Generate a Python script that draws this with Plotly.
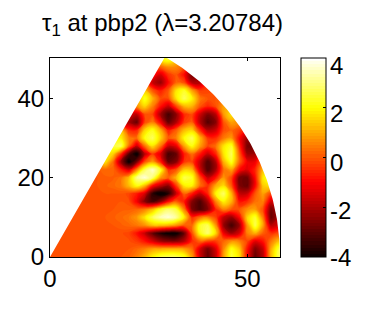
import numpy as np
import plotly.graph_objects as go

title_text = "τ<sub>1</sub> at pbp2 (λ=3.20784)"
grid_x = list(range(0, 61, 2))
grid_y = list(range(0, 53, 2))
sector_radius = 58.3
sector_angle_deg = 60
x_ticks = [0, 50]
y_ticks = [0, 20, 40]
bar_ticks = [-4, -2, 0, 2, 4]
bar_labels = ["-4", "-2", "0", "2", "4"]
bar_label_px = [257, 210, 162, 113, 66]
level_shift = -0.3

# field values, one row per grid_y value (x = 0, 2, ... 58)
row_00 = [.2]*8 + [.2,.3,.4,.8,1.4,2.2,2.8,3,3,2.6,1.2,-1.2,-2.6,-1.4,1.1,2.8,2,-.6,-2.6,-1.6,1.4,3]
row_02 = [.2]*8 + [.2,.2,.3,.5,.8,1.2,1.3,1.4,1.4,1.2,.6,-1.2,-2.4,-1.2,.9,2.5,1.7,-.5,-2.3,-1.4,1.3,2.8]
row_04 = [.2]*8 + [.2,.2,.2,0,-.5,-1.2,-1.9,-2.2,-2.2,-1.6,-.2,.5,.1,0,.5,1,.8,.1,-1,-.5,.7,1.6]
row_06 = [.2]*8 + [.2,.2,.1,-.5,-1.4,-2.6,-3.4,-3.8,-3.8,-2.6,.2,2.4,3.2,1.9,-.9,-1.9,-1.2,.8,1.4,.4,-.1,.2]
row_08 = [.2]*7 + [.2,.3,.4,.5,.7,1,1.6,1.6,1.4,1,.4,.5,2.6,3,1.1,-2,-3,-2,1.1,2.9,1.2,-1.6,-1.2]
row_10 = [.2]*7 + [.3,.4,.5,.7,1.1,2,3,3.7,4,3.5,2.1,-.2,.6,.9,.1,-1.5,-2,-.7,1.8,2.7,.7,-2.6,-1.6]
row_12 = [.2]*7 + [.3,.3,.4,.4,.5,.8,1.5,2.6,3.2,2.8,.8,-2.3,-2.9,-2.2,-.3,.8,.3,.3,1,1.2,.2,-2.4,-1.5]
row_14 = [.2]*6 + [.2,.2,.3,.3,.2,-.8,-2.2,-3,-2.2,-.6,.4,-.4,-2.2,-2.9,-1.7,.8,2.2,1.4,-.5,-.2,.6,.8,-1.2,-.8]
row_16 = [.2]*5 + [.2,.2,.3,.3,.3,.1,-.4,-1.2,-3.3,-4,-3.4,-1.4,.5,-.4,-1.4,-.3,2.2,3.1,1.4,-1.4,-1.4,.3,1.2,.1,0]
row_18 = [.2]*5 + [.2,.3,.4,.5,.7,1.5,2.4,1.5,-.6,-1.5,-2.1,0,2.1,2.2,.6,-.2,1.3,1.9,.3,-2.3,-2.6,-.7,1.7,2,.5]
row_20 = [.2]*5 + [.3,.3,.4,.4,.6,1.5,3.4,4,3.2,1.1,.4,1.5,2.9,2.6,.3,-1.4,-.5,1.1,.1,-2.4,-2.5,-.6,2.1,2.6,1]
row_22 = [.2]*6 + [.4,.5,.5,-.3,-1.2,.9,3,3.9,2.6,-.1,.3,1.7,1.5,-1.2,-2.9,-1.8,.6,1.2,-.6,-1.1,-.3,1.5,2,1]
row_24 = [.2]*6 + [.8,2,.6,-2,-3.8,-2.4,.2,1.2,-.3,-2.6,-2.2,-.1,.1,-1.4,-2.9,-1.7,1.4,2.6,.5,-.9,-.9,.8,1.8,1]
row_26 = [.2]*6 + [1.5,2.2,1.8,-.2,-2.8,-3.9,-1.6,0,-1.1,-3,-2.6,-.4,.6,-.4,-1.4,-.3,2,3,.4,-1.9,-1.8,.2,1.4,1]
row_28 = [.2]*7 + [2.2,2.8,3,.5,-1.4,.6,2,.7,-1.4,-1,1.2,2.4,1.2,.1,.6,2,2.6,-.2,-2.4,-2.4,-.4,.8,.8]
row_30 = [.2]*7 + [2,2,2.2,.8,.6,2.4,3,1.8,.3,.8,2.3,3,1.5,-.1,-.2,.7,1.1,-.6,-1.9,-1.8,-.2,.3,.3]
row_32 = [.2]*8 + [1.6,1.6,-.2,-.3,1.8,2.5,1.4,-.4,.4,1.5,1.8,-.1,-1.6,-1.3,.2,.5,.1,-.6,-.5,0,0,0]
row_34 = [.2]*8 + [-1,-1.5,-1.8,-2.6,.1,.8,-.7,-2.6,-1.7,0,.4,-1.6,-2.8,-2.2,.3,1.2,.9,.3,0,0,0,0]
row_36 = [.2]*9 + [-1,-1.2,-1.5,.2,.1,-1.8,-3,-2.1,-.2,.2,-1.3,-2.3,-1.6,1.1,2,1.2,0,0,0,0,0]
row_38 = [.2]*9 + [.5,.8,1,1.8,.8,-.5,-1.4,.1,1.4,1.4,.3,-.3,.2,1.2,1.5,1,0,0,0,0,0]
row_40 = [.2]*10 + [1,1.2,2.6,1.4,.2,.2,2,3,2.2,.7,.3,.3,.5,.5,0,0,0,0,0,0]
row_42 = [.2]*11 + [1,1.6,.3,-.4,.3,2,2.6,1.2,0,.1,.2,.3,0,0,0,0,0,0,0]
row_44 = [.2]*12 + [.5,-1.4,-2,-.6,.5,.2,-1.6,-1.6,-.3,0,0,0,0,0,0,0,0,0]
row_46 = [.2]*12 + [.2,-.5,-1.2,-.1,.3,-.6,-2.4,-2,-.5,0,0,0,0,0,0,0,0,0]
row_48 = [.2]*13 + [.3,.5,1,.9,.3,-1,-1,0,0,0,0,0,0,0,0,0,0]
row_50 = [.2]*13 + [1,2.2,2.8,1.8,.5,0,0,0,0,0,0,0,0,0,0,0,0]
row_52 = [.2]*13 + [1,2.5,3,2,.5,0,0,0,0,0,0,0,0,0,0,0,0]
rows = [row_00, row_02, row_04, row_06, row_08, row_10, row_12, row_14, row_16, row_18, row_20, row_22,
        row_24, row_26, row_28, row_30, row_32, row_34, row_36, row_38, row_40, row_42, row_44, row_46,
        row_48, row_50, row_52]
field = [[v + level_shift for v in r + [r[-1]]] for r in rows]

hot = [[0, "rgb(11,0,0)"], [3/8, "rgb(255,0,0)"], [6/8, "rgb(255,255,0)"], [1, "rgb(255,255,255)"]]
FONT = "Liberation Sans, Arial, sans-serif"
W, H = 381, 309
L, R, T, B = 50, 280, 58, 257
PW, PH = R - L, B - T

fig = go.Figure()
fig.add_trace(go.Contour(
    x=grid_x, y=grid_y, z=field, zmin=-4, zmax=4, colorscale=hot, hoverinfo="skip",
    contours=dict(coloring="fill", start=-4, end=4, size=0.125, showlines=False),
    line=dict(width=0, smoothing=1.3),
    colorbar=dict(
        thicknessmode="pixels", thickness=25, lenmode="fraction", len=1,
        x=(301 - L) / PW, xanchor="left", xpad=0, y=1, yanchor="top", ypad=0,
        outlinecolor="black", outlinewidth=1, borderwidth=0,
        tickmode="array", tickvals=bar_ticks, showticklabels=False,
        ticks="inside", ticklen=3, tickwidth=1, tickcolor="black",
    ),
))

# white cover outside the sector
angles = np.radians(np.linspace(sector_angle_deg, 0, 120))
x_max, y_max = 58.3, 50.2
mask_x = [0.0] + list(sector_radius * np.cos(angles)) + [x_max + 1, x_max + 1, 0.0, 0.0]
mask_y = [0.0] + list(sector_radius * np.sin(angles)) + [0.0, y_max + 1, y_max + 1, 0.0]
fig.add_trace(go.Scatter(x=mask_x, y=mask_y, mode="lines", line=dict(width=0),
                         fill="toself", fillcolor="white", hoverinfo="skip", showlegend=False))

for text, py in zip(bar_labels, bar_label_px):
    fig.add_annotation(text=text, xref="paper", yref="paper", x=(329 - L) / PW, y=(B - py) / PH,
                       xanchor="left", yanchor="middle", showarrow=False, borderpad=0,
                       font=dict(family=FONT, size=24, color="black"))

axis_common = dict(showgrid=False, zeroline=False, showline=True, linecolor="black", linewidth=1,
                   mirror="ticks", ticks="inside", ticklen=3, tickcolor="black",
                   tickfont=dict(family=FONT, size=24, color="black"), layer="above traces")
fig.update_xaxes(range=[0, x_max], tickvals=x_ticks, **axis_common)
fig.update_yaxes(range=[0, y_max], tickvals=y_ticks, **axis_common)
fig.update_layout(
    width=W, height=H, autosize=False, paper_bgcolor="white", plot_bgcolor="white", showlegend=False,
    margin=dict(l=L, r=W - R, t=T, b=H - B),
    title=dict(text=title_text, x=42 / W, xanchor="left", y=1 - 31 / H, yanchor="bottom",
               pad=dict(l=0, r=0, t=0, b=0), font=dict(family=FONT, size=24, color="black")),
)
fig.write_html("out.html", config={"displayModeBar": False},
               post_script="document.body.style.margin='0';")
